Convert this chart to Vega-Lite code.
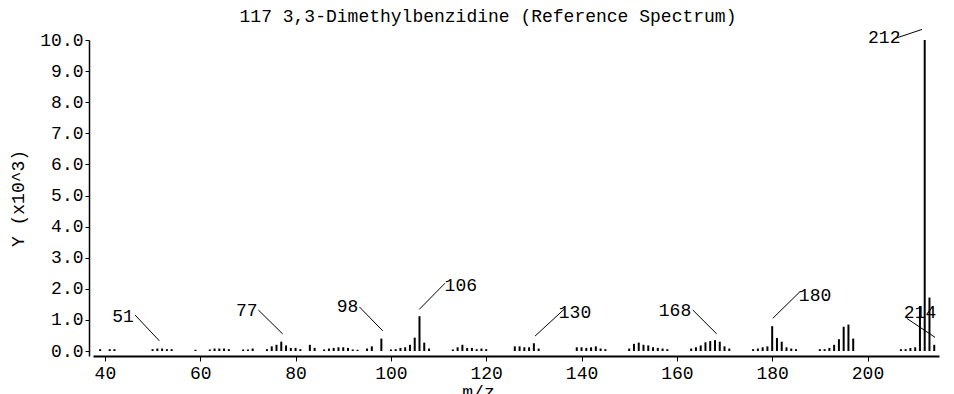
{
  "$schema": "https://vega.github.io/schema/vega-lite/v6.json",
  "autosize": {"type": "none"},
  "width": 846,
  "height": 316,
  "padding": {"left": 93, "top": 40, "right": 15, "bottom": 38},
  "background": "white",
  "title": {
    "text": "117 3,3-Dimethylbenzidine (Reference Spectrum)",
    "font": "Liberation Mono",
    "fontSize": 18,
    "fontWeight": "normal",
    "color": "black",
    "anchor": "middle",
    "dx": -28,
    "offset": 3
  },
  "datasets": {
    "peaks": [
      {"mz": 39, "y": 0.06}, {"mz": 41, "y": 0.06}, {"mz": 42, "y": 0.06},
      {"mz": 50, "y": 0.06}, {"mz": 51, "y": 0.08}, {"mz": 52, "y": 0.08}, {"mz": 53, "y": 0.06}, {"mz": 54, "y": 0.06},
      {"mz": 59, "y": 0.04}, {"mz": 62, "y": 0.05}, {"mz": 63, "y": 0.08}, {"mz": 64, "y": 0.08}, {"mz": 65, "y": 0.08}, {"mz": 66, "y": 0.06},
      {"mz": 69, "y": 0.05}, {"mz": 70, "y": 0.05}, {"mz": 71, "y": 0.08},
      {"mz": 74, "y": 0.06}, {"mz": 75, "y": 0.15}, {"mz": 76, "y": 0.2}, {"mz": 77, "y": 0.3}, {"mz": 78, "y": 0.18}, {"mz": 79, "y": 0.1}, {"mz": 80, "y": 0.1}, {"mz": 81, "y": 0.06},
      {"mz": 83, "y": 0.2}, {"mz": 84, "y": 0.1}, {"mz": 86, "y": 0.05}, {"mz": 87, "y": 0.08}, {"mz": 88, "y": 0.1}, {"mz": 89, "y": 0.12}, {"mz": 90, "y": 0.12}, {"mz": 91, "y": 0.1}, {"mz": 92, "y": 0.05}, {"mz": 93, "y": 0.04},
      {"mz": 95, "y": 0.08}, {"mz": 96, "y": 0.15}, {"mz": 98, "y": 0.4},
      {"mz": 100, "y": 0.05}, {"mz": 101, "y": 0.06}, {"mz": 102, "y": 0.1}, {"mz": 103, "y": 0.12}, {"mz": 104, "y": 0.2}, {"mz": 105, "y": 0.43}, {"mz": 106, "y": 1.12}, {"mz": 107, "y": 0.27}, {"mz": 108, "y": 0.08},
      {"mz": 113, "y": 0.05}, {"mz": 114, "y": 0.12}, {"mz": 115, "y": 0.2}, {"mz": 116, "y": 0.1}, {"mz": 117, "y": 0.1}, {"mz": 118, "y": 0.06}, {"mz": 119, "y": 0.08}, {"mz": 120, "y": 0.06},
      {"mz": 126, "y": 0.15}, {"mz": 127, "y": 0.15}, {"mz": 128, "y": 0.12}, {"mz": 129, "y": 0.12}, {"mz": 130, "y": 0.25}, {"mz": 131, "y": 0.08},
      {"mz": 139, "y": 0.12}, {"mz": 140, "y": 0.12}, {"mz": 141, "y": 0.1}, {"mz": 142, "y": 0.12}, {"mz": 143, "y": 0.15}, {"mz": 144, "y": 0.08}, {"mz": 145, "y": 0.06},
      {"mz": 150, "y": 0.08}, {"mz": 151, "y": 0.23}, {"mz": 152, "y": 0.27}, {"mz": 153, "y": 0.2}, {"mz": 154, "y": 0.18}, {"mz": 155, "y": 0.12}, {"mz": 156, "y": 0.1}, {"mz": 157, "y": 0.08}, {"mz": 158, "y": 0.06},
      {"mz": 163, "y": 0.08}, {"mz": 164, "y": 0.12}, {"mz": 165, "y": 0.18}, {"mz": 166, "y": 0.28}, {"mz": 167, "y": 0.32}, {"mz": 168, "y": 0.35}, {"mz": 169, "y": 0.3}, {"mz": 170, "y": 0.15}, {"mz": 171, "y": 0.08},
      {"mz": 176, "y": 0.06}, {"mz": 177, "y": 0.08}, {"mz": 178, "y": 0.12}, {"mz": 179, "y": 0.15}, {"mz": 180, "y": 0.8}, {"mz": 181, "y": 0.42}, {"mz": 182, "y": 0.3}, {"mz": 183, "y": 0.12}, {"mz": 184, "y": 0.08}, {"mz": 185, "y": 0.06},
      {"mz": 190, "y": 0.06}, {"mz": 191, "y": 0.06}, {"mz": 192, "y": 0.1}, {"mz": 193, "y": 0.2}, {"mz": 194, "y": 0.38}, {"mz": 195, "y": 0.78}, {"mz": 196, "y": 0.85}, {"mz": 197, "y": 0.4},
      {"mz": 207, "y": 0.06}, {"mz": 208, "y": 0.06}, {"mz": 209, "y": 0.1}, {"mz": 210, "y": 0.12}, {"mz": 211, "y": 1.45}, {"mz": 212, "y": 10.0}, {"mz": 213, "y": 1.72}, {"mz": 214, "y": 0.2}
    ],
    "labels": [
      {"mz": 43.8, "y": 1.11, "text": "51"},
      {"mz": 69.75, "y": 1.29, "text": "77"},
      {"mz": 90.9, "y": 1.4, "text": "98"},
      {"mz": 114.67, "y": 2.08, "text": "106"},
      {"mz": 138.63, "y": 1.21, "text": "130"},
      {"mz": 159.61, "y": 1.28, "text": "168"},
      {"mz": 188.99, "y": 1.775, "text": "180"},
      {"mz": 203.51, "y": 10.05, "text": "212"},
      {"mz": 211.02, "y": 1.21, "text": "214"}
    ],
    "pointers": [
      {"mz": 46.31, "y": 1.16, "mz2": 51.41, "y2": 0.33},
      {"mz": 72.18, "y": 1.32, "mz2": 77.3, "y2": 0.55},
      {"mz": 93.38, "y": 1.42, "mz2": 98.28, "y2": 0.65},
      {"mz": 105.96, "y": 1.34, "mz2": 111.36, "y2": 2.18},
      {"mz": 130.24, "y": 0.48, "mz2": 136.54, "y2": 1.37},
      {"mz": 163.33, "y": 1.32, "mz2": 168.36, "y2": 0.55},
      {"mz": 180.12, "y": 1.05, "mz2": 185.84, "y2": 1.91},
      {"mz": 205.8, "y": 10.05, "mz2": 211.43, "y2": 10.34},
      {"mz": 208.23, "y": 1.05, "mz2": 214.17, "y2": 0.44}
    ]
  },
  "encoding": {
    "x": {
      "field": "mz", "type": "quantitative",
      "scale": {"domain": [37.5, 215], "nice": false, "zero": false},
      "axis": {
        "title": "m/z", "values": [40, 60, 80, 100, 120, 140, 160, 180, 200],
        "domainWidth": 2, "tickSize": 5, "labelPadding": 3, "titlePadding": 1,
        "titleX": 385, "labelFlush": false, "labelOverlap": false
      }
    },
    "y": {
      "field": "y", "type": "quantitative",
      "scale": {"domain": [-0.16, 10], "nice": false, "zero": false},
      "axis": {
        "title": "Y (x10^3)", "values": [0, 1, 2, 3, 4, 5, 6, 7, 8, 9, 10],
        "format": ".1f", "offset": 4, "tickSize": 4, "labelPadding": 2,
        "titlePadding": 12, "domainWidth": 1.5, "labelOverlap": false
      }
    }
  },
  "layer": [
    {
      "data": {"name": "peaks"},
      "mark": {"type": "rule", "color": "black", "strokeWidth": 2},
      "encoding": {
        "y2": {"datum": 0}
      }
    },
    {
      "data": {"name": "pointers"},
      "mark": {"type": "rule", "color": "black", "strokeWidth": 1},
      "encoding": {
        "x2": {"field": "mz2"},
        "y2": {"field": "y2"}
      }
    },
    {
      "data": {"name": "labels"},
      "mark": {"type": "text", "color": "black", "font": "Liberation Mono", "fontSize": 18, "align": "center", "baseline": "middle"},
      "encoding": {
        "text": {"field": "text"}
      }
    }
  ],
  "config": {
    "view": {"stroke": null},
    "font": "Liberation Mono",
    "axis": {
      "grid": false,
      "domainColor": "black",
      "tickColor": "black",
      "labelColor": "black",
      "titleColor": "black",
      "labelFont": "Liberation Mono",
      "titleFont": "Liberation Mono",
      "labelFontSize": 18,
      "titleFontSize": 18,
      "titleFontWeight": "normal"
    }
  }
}
